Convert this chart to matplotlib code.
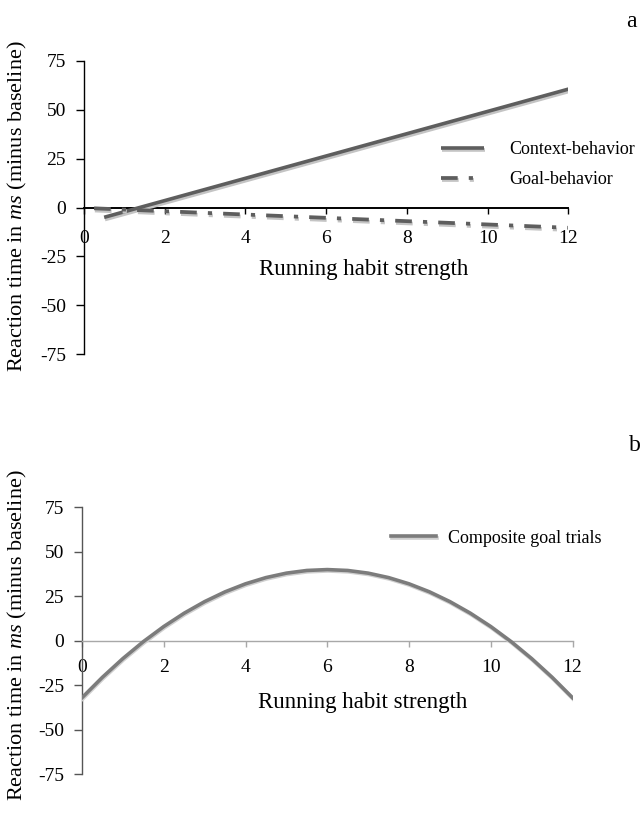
import matplotlib.pyplot as plt
import matplotlib.patheffects as pe

plt.rcParams['font.family'] = ['Liberation Serif', 'DejaVu Serif']
plt.rcParams['mathtext.fontset'] = 'custom'
plt.rcParams['mathtext.it'] = 'Liberation Serif:italic'
plt.rcParams['mathtext.rm'] = 'Liberation Serif'
plt.rcParams['lines.scale_dashes'] = False
plt.rcParams['axes.unicode_minus'] = False

# panel a: simple slopes
context_x = [0.5, 12]
context_y = [-5, 60.5]
goal_x = [0.25, 12.3]
goal_y = [-0.4, -10.6]

# panel b: composite goal trials
composite_x = [0, 0.5, 1, 1.5, 2, 2.5, 3, 3.5, 4, 4.5, 5, 5.5, 6,
               6.5, 7, 7.5, 8, 8.5, 9, 9.5, 10, 10.5, 11, 11.5, 12]
composite_y = [-32, -20.5, -10, -0.5, 8, 15.5, 22, 27.5, 32, 35.5, 38, 39.5, 40,
               39.5, 38, 35.5, 32, 27.5, 22, 15.5, 8, -0.5, -10, -20.5, -32]

x_ticks = [0, 2, 4, 6, 8, 10, 12]
y_ticks = [-75, -50, -25, 0, 25, 50, 75]
y_label = 'Reaction time in $\\mathit{ms}$ (minus baseline)'
x_label = 'Running habit strength'

fig = plt.figure(figsize=(6.42, 8.14), dpi=100)


def style_axes(ax, zero_color, zero_lw, spine_color, xpad):
    ax.set_xlim(0, 12)
    ax.set_ylim(-75, 75)
    for s in ['top', 'right']:
        ax.spines[s].set_visible(False)
    ax.spines['bottom'].set_position(('data', 0))
    ax.spines['bottom'].set_color(zero_color)
    ax.spines['bottom'].set_linewidth(zero_lw)
    ax.spines['left'].set_color(spine_color)
    ax.spines['left'].set_linewidth(1.0)
    ax.set_xticks(x_ticks)
    ax.set_yticks(y_ticks)
    ax.tick_params(axis='y', direction='out', length=6, width=1,
                   color=spine_color, pad=7, labelsize=14)
    ax.tick_params(axis='x', direction='out', length=4, width=1,
                   color=zero_color, pad=xpad, labelsize=14)
    ax.patch.set_visible(False)


shadow = [pe.SimpleLineShadow(offset=(0.6, -1.6), shadow_color='#c4c4c4', alpha=1.0),
          pe.Normal()]

# ---- panel a ----
ax1 = fig.add_axes([0.1308, 0.5647, 0.7546, 0.3607])
style_axes(ax1, 'black', 1.4, 'black', 12)
ax1.plot(context_x, context_y, color='#5e5e5e', lw=2.6, solid_capstyle='butt',
         path_effects=shadow, label='Context-behavior', zorder=3)
ax1.plot(goal_x, goal_y, color='#5e5e5e', lw=2.7,
         dashes=(12, 8, 3, 8), dash_capstyle='butt',
         path_effects=shadow, label='Goal-behavior', zorder=3)
ax1.set_xlabel(x_label, fontsize=16.5)
ax1.xaxis.set_label_coords(0.578, 0.29)
ax1.xaxis.label.set_va('center')
ax1.set_ylabel(y_label, fontsize=16)
ax1.yaxis.set_label_coords(-0.1135, 0.505)
ax1.legend(loc='center left', bbox_to_anchor=(0.737, 0.646), frameon=False,
           fontsize=13, handlelength=2.4, handletextpad=1.4, labelspacing=0.72,
           borderaxespad=0, borderpad=0)
fig.text(0.983, 0.974, 'a', fontsize=17, ha='center', va='center')

# ---- panel b ----
ax2 = fig.add_axes([0.1277, 0.0488, 0.7641, 0.3280])
style_axes(ax2, '#a8a8a8', 1.0, '#555555', 9)
shadow_b = [pe.SimpleLineShadow(offset=(0.4, -1.0), shadow_color='#cfcfcf', alpha=1.0),
            pe.Normal()]
ax2.plot(composite_x, composite_y, color='#7c7c7c', lw=2.6,
         path_effects=shadow_b, label='Composite goal trials', zorder=3)
ax2.set_xlabel(x_label, fontsize=16.5)
ax2.xaxis.set_label_coords(0.573, 0.268)
ax2.xaxis.label.set_va('center')
ax2.set_ylabel(y_label, fontsize=16)
ax2.yaxis.set_label_coords(-0.108, 0.52)
ax2.legend(loc='center left', bbox_to_anchor=(0.630, 0.884), frameon=False,
           fontsize=13, handlelength=2.5, handletextpad=0.65,
           borderaxespad=0, borderpad=0)
fig.text(0.989, 0.453, 'b', fontsize=17, ha='center', va='center')

fig.savefig('out.png', dpi=100)
